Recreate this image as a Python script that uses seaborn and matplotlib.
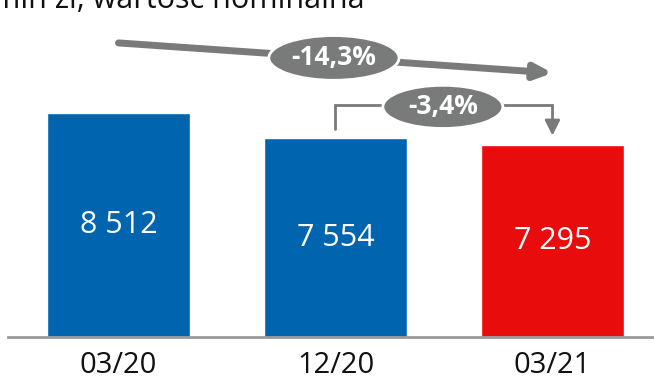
import matplotlib
matplotlib.use("Agg")
import matplotlib.pyplot as plt
from matplotlib.patches import Ellipse
import seaborn as sns
import pandas as pd

# data
okresy = ["03/20", "12/20", "03/21"]
wartosci = [8512, 7554, 7295]
kolory = ["#0064AF", "#0064AF", "#E80C0C"]
podtytul = "mln zł, wartość nominalna"

sns.set_style("white")
plt.rcParams["font.family"] = ["Open Sans", "DejaVu Sans"]

df = pd.DataFrame({"okres": okresy, "wartosc": wartosci})

fig = plt.figure(figsize=(6.54, 3.82), dpi=100)
ax = fig.add_axes([8 / 654, 45 / 382, 646 / 654, 337 / 382])

sns.barplot(data=df, x="okres", y="wartosc", hue="okres", palette=kolory,
            width=0.66, saturation=1, legend=False, ax=ax)

ax.set_xlim(-0.509, 2.468)
ax.set_ylim(0, 12800)
ax.set_xlabel("")
ax.set_ylabel("")
ax.set_yticks([])
ax.tick_params(axis="x", length=0, labelsize=21, pad=10, labelcolor="#111111")
for s in ["top", "right", "left"]:
    ax.spines[s].set_visible(False)
ax.spines["bottom"].set_color("#9a9a9a")
ax.spines["bottom"].set_linewidth(2)

# values inside bars
for i, v in enumerate(wartosci):
    txt = f"{v:,}".replace(",", " ")
    ax.text(i, v / 2, txt, ha="center", va="center", color="white", fontsize=22)

szary = "#797b7b"

# total change arrow 03/20 -> 03/21
zm_calk = (wartosci[2] / wartosci[0] - 1) * 100
ax.annotate("", xy=(2, 10030), xytext=(0, 11170),
            arrowprops=dict(arrowstyle="-|>,head_length=1.0,head_width=0.45",
                            color=szary, lw=5, shrinkA=0, shrinkB=0))
ax.add_patch(Ellipse((0.993, 10600), 0.6, 1700, facecolor=szary,
                     edgecolor="white", lw=2, zorder=5))
ax.text(0.993, 10600, f"{zm_calk:.1f}%".replace(".", ","), ha="center",
        va="center", color="white", fontsize=19, fontweight="bold", zorder=6)

# quarter change bracket 12/20 -> 03/21
zm_kw = (wartosci[2] / wartosci[1] - 1) * 100
ax.plot([1, 1, 2, 2], [7900, 8800, 8800, 8150], color=szary, lw=2,
        solid_joinstyle="miter")
ax.annotate("", xy=(2, 7650), xytext=(2, 8200),
            arrowprops=dict(arrowstyle="-|>,head_length=0.9,head_width=0.45",
                            color=szary, lw=2, shrinkA=0, shrinkB=0))
ax.add_patch(Ellipse((1.495, 8740), 0.553, 1640, facecolor=szary,
                     edgecolor="white", lw=2, zorder=5))
ax.text(1.495, 8740, f"{zm_kw:.1f}%".replace(".", ","), ha="center",
        va="center", color="white", fontsize=19, fontweight="bold", zorder=6)

fig.text(-8 / 654, 1 - 8 / 382, podtytul, ha="left", va="baseline",
         fontsize=22, color="#111111")

fig.savefig("out.png", dpi=100)
